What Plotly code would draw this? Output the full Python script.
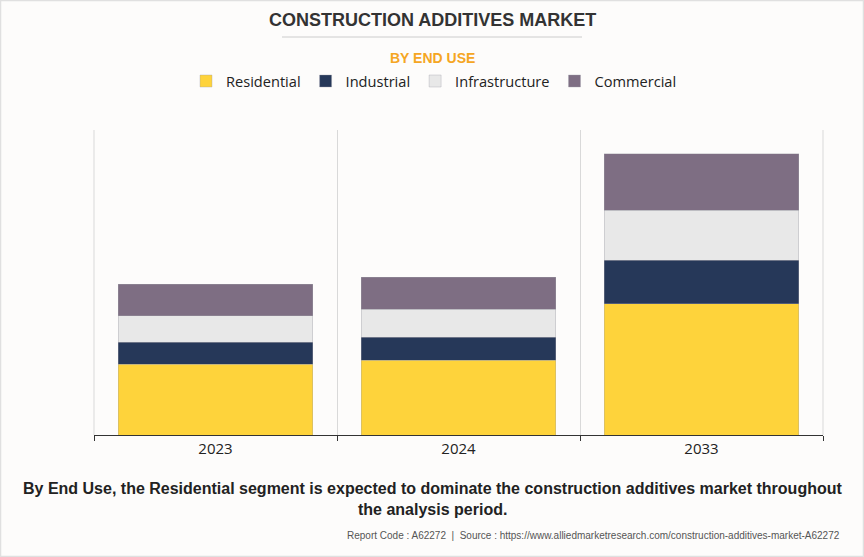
import plotly.graph_objects as go

years = ["2023", "2024", "2033"]
residential = [70.7, 75.0, 131.3]
industrial = [22.3, 23.0, 43.3]
infrastructure = [26.3, 28.0, 50.0]
commercial = [31.4, 32.0, 56.6]

series = [
    ("Residential", residential, "#fed33b"),
    ("Industrial", industrial, "#263859"),
    ("Infrastructure", infrastructure, "#e8e8e8"),
    ("Commercial", commercial, "#7e6e83"),
]

W, H = 864, 557
L, R, T, B = 94, 823, 130, 435
pw, ph = R - L, B - T


def px(x):
    return (x - L) / pw


def py(y):
    return (B - y) / ph


fig = go.Figure()
for name, vals, col in series:
    fig.add_trace(go.Bar(
        x=years, y=vals, name=name,
        marker=dict(color=col, line=dict(color="rgba(160,160,170,0.6)", width=0.6)),
        width=0.8,
    ))

fig.update_layout(
    width=W, height=H,
    barmode="stack",
    margin=dict(l=L, r=W - R, t=T, b=H - B),
    paper_bgcolor="#fdfcfb",
    plot_bgcolor="#fdfcfb",
    showlegend=True,
    legend=dict(
        orientation="h", x=px(434), xanchor="center", y=py(81), yanchor="middle",
        font=dict(family="Open Sans, Noto Sans, sans-serif", size=14.6, color="#222222"),
        itemwidth=30, traceorder="normal", bgcolor="rgba(0,0,0,0)",
    ),
    xaxis=dict(
        type="category", tickson="boundaries", showgrid=True, gridcolor="#d9d9d9",
        gridwidth=1, ticks="outside", ticklen=5, tickcolor="#333333",
        showline=True, linecolor="#333333", linewidth=1,
        tickfont=dict(family="Open Sans, Noto Sans, sans-serif", size=15, color="#222222"),
        fixedrange=True,
    ),
    yaxis=dict(range=[0, ph], visible=False, showgrid=False, zeroline=False),
    font=dict(family="Liberation Sans, Arial, sans-serif"),
)

anns = [
    dict(text="<b>CONSTRUCTION ADDITIVES MARKET</b>", x=px(432), y=py(20),
         font=dict(family="Liberation Sans, Arial, sans-serif", size=18, color="#333333")),
    dict(text="<b>BY END USE</b>", x=px(432), y=py(58),
         font=dict(family="Liberation Sans, Arial, sans-serif", size=14, color="#f5a623")),
    dict(text="<b>By End Use, the Residential segment is expected to dominate the construction additives market throughout</b>",
         x=px(432), y=py(488),
         font=dict(family="Liberation Sans, Arial, sans-serif", size=16, color="#222222")),
    dict(text="<b>the analysis period.</b>", x=px(432), y=py(509),
         font=dict(family="Liberation Sans, Arial, sans-serif", size=16, color="#222222")),
]
for a in anns:
    fig.add_annotation(xref="paper", yref="paper", showarrow=False,
                       xanchor="center", yanchor="middle", **a)

fig.add_annotation(
    text="Report Code : A62272  |  Source : https://www.alliedmarketresearch.com/construction-additives-market-A62272",
    xref="paper", yref="paper", x=px(842), y=py(535), xanchor="right", yanchor="middle",
    showarrow=False, font=dict(family="Liberation Sans, Arial, sans-serif", size=10, color="#555555"))

# edge gridlines at plot-area boundaries
for xe in (0, 1):
    fig.add_shape(type="line", xref="paper", yref="paper", x0=xe, x1=xe, y0=0, y1=1,
                  line=dict(color="#d9d9d9", width=1), layer="below")
# title underline
fig.add_shape(type="line", xref="paper", yref="paper", x0=px(282), x1=px(582),
              y0=py(37), y1=py(37), line=dict(color="#cccccc", width=1))
# outer border
fig.add_shape(type="rect", xref="paper", yref="paper", x0=px(0.5), x1=px(W - 0.5),
              y0=py(0.5), y1=py(H - 0.5), line=dict(color="#e0e0e0", width=1.5),
              layer="below")

fig.write_html("out.html", config={"displayModeBar": False},
               post_script="document.body.style.margin='0';document.body.style.overflow='hidden';")
